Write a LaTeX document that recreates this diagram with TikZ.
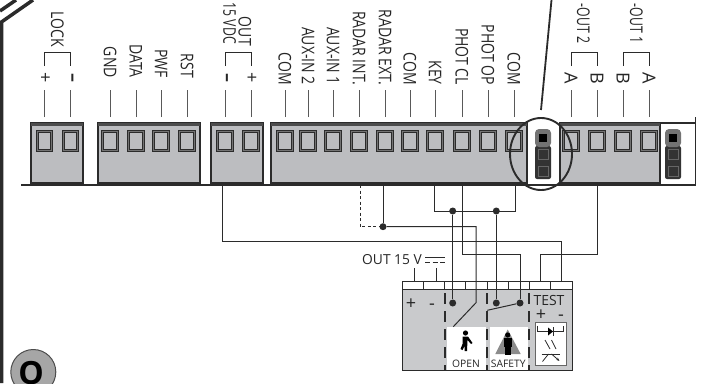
\documentclass[tikz,border=0pt]{standalone}
\usepackage{fontspec}
\setmainfont{Open Sans}
\newfontfamily\pinfont[FakeStretch=0.8]{Open Sans}
\newfontfamily\edgefont[FakeStretch=0.7]{Open Sans}
\usetikzlibrary{calc,arrows.meta,positioning}
\definecolor{blockgray}{HTML}{BCBDC0}
\definecolor{boxgray}{HTML}{C9CACC}
\definecolor{inkdark}{HTML}{2B2B2B}
\begin{document}
\begin{tikzpicture} [x=1pt,y=-1pt,{block/.style={draw=inkdark,fill=blockgray,line width=1.2pt}},{screw/.style={rectangle,draw=inkdark,double=black!55,double distance=1pt,line width=0.9pt,fill=blockgray,minimum width=14.5pt,minimum height=19.5pt,inner sep=0pt}},{lead/.style={color=black!65,line width=0.8pt}},{bracket/.style={color=inkdark,line width=0.8pt}},{pinlabel/.style={rotate=-90,anchor=east,inner sep=0pt,text=black!85,font=\pinfont\fontsize{17.5}{17.5}\selectfont}},{edgelabel/.style={pinlabel,font=\edgefont\fontsize{17.5}{17.5}\selectfont}},{polarity/.style={rotate=-90,inner sep=0pt,text=black!85,font=\fontsize{18}{18}\selectfont}},{wire/.style={color=inkdark,line width=1pt}},{dot/.style={circle,fill=inkdark,minimum size=7pt,inner sep=0pt}},{divider/.style={color=inkdark,line width=1.2pt,dash pattern=on 11pt off 7pt}},{tag/.style={inner sep=0pt,text=black!85,font=\fontsize{10.3}{10.3}\selectfont}},{sign/.style={inner sep=0pt,text height=12pt,text depth=0pt,text=black!85,font=\fontsize{18}{18}\selectfont}}]
	\path [use as bounding box,clip] (0,0) rectangle (701,383);
	%%outer casing
	\draw [line width=3.5pt,color=inkdark] (33,0) -- (1.5,22) -- (1.5,383);
	\draw [line width=3.5pt,color=inkdark] (16,0) -- (0,11);
	%%terminal blocks
	\draw [line width=1.2pt,color=inkdark] (660,123) -- (695.5,123);
	\draw [line width=1.2pt,color=inkdark] (695.5,117) -- (695.5,185) -- (21,185);
	\foreach \xa/\xb in {31/83,98/200,211/263,271/527,560/660}{
		\draw [block] (\xa,123) rectangle (\xb,183);
		\fill [color=black!70] (\xa,123) rectangle (\xb,126);
	}
	%%screws
	\foreach \n/\xs in {1/44.5,2/70.5,3/110,4/136,5/161,6/187,7/225,8/251,9/285,10/308,11/333,12/359,13/385,14/410,15/435,16/462,17/488,18/514,19/571,20/597,21/623,22/649}{
		\node (S\n) [screw] at (\xs,141) {};
		\draw [lead] ($(S\n)+(0,-24)$) -- ($(S\n)+(0,-51)$);
	}
	%%pin labels
	\foreach \n/\txt in {3/GND,4/DATA,5/PWF,6/RST}{
		\node (L\n) [pinlabel] at ($(S\n)+(0,-63)$) {\txt};
	}
	\foreach \n/\txt in {9/COM,10/AUX-IN 2,11/AUX-IN 1,12/RADAR INT.,13/RADAR EXT.,14/COM,15/KEY,16/PHOT CL,17/PHOT OP,18/COM}{
		\node (L\n) [pinlabel] at ($(S\n)+(0,-56)$) {\txt};
	}
	%%brackets
	\foreach \a/\b in {1/2,7/8,19/20,21/22}{
		\draw [bracket] ($(S\a)+(0,-75)$) -- ($(S\a)+(0,-88.5)$) -- ($(S\b)+(0,-88.5)$) -- ($(S\b)+(0,-75)$);
	}
	\node (LOCKpos) [polarity] at ($(S1)+(0,-63)$) {+};
	\node (LOCKneg) [polarity] at ($(S2)+(0,-63)$) {\textbf{--}};
	\node (OUTneg) [polarity] at ($(S7)+(0,-63)$) {\textbf{--}};
	\node (OUTpos) [polarity] at ($(S8)+(0,-63)$) {+};
	\node (OUTtwoA) [polarity] at ($(S19)+(0,-63)$) {A};
	\node (OUTtwoB) [polarity] at ($(S20)+(0,-63)$) {B};
	\node (OUToneB) [polarity] at ($(S21)+(0,-63)$) {B};
	\node (OUToneA) [polarity] at ($(S22)+(0,-63)$) {A};
	\node (LOCK) [pinlabel] at (57.5,47) {LOCK};
	\node (OUTa) [pinlabel] at (245,46) {OUT};
	\node (OUTb) [edgelabel] at (229.5,44) {15 VDC};
	\node (OUTtwo) [edgelabel] at (583.5,43.5) {-OUT 2};
	\node (OUTone) [edgelabel] at (636.5,43.5) {-OUT 1};
	%%jumpers
	\foreach \xj in {543,673}{
		\fill [color=black!80,rounded corners=2pt] ($(\xj,146)+(-8,0)$) rectangle ($(\xj,179)+(8,0)$);
		\fill [color=black!55,rounded corners=4pt] ($(\xj,129)+(-8,0)$) rectangle ($(\xj,147)+(8,0)$);
		\fill [color=black] ($(\xj,137.5)+(-4,-4)$) rectangle ($(\xj,137.5)+(4,4)$);
		\draw [color=black!60,line width=0.6pt] ($(\xj,154)+(-5,-5)$) rectangle ($(\xj,154)+(5,5)$);
		\draw [color=black!60,line width=0.6pt] ($(\xj,171)+(-5,-5)$) rectangle ($(\xj,171)+(5,5)$);
	}
	\draw [line width=1.8pt,color=inkdark] (551.5,0) -- (541,110);
	\draw [line width=1.9pt,color=inkdark] (541,154) ellipse [x radius=31,y radius=36];
	%%receiver box
	\fill [color=boxgray] (402,289) rectangle (572,370);
	\fill [color=white] (446.5,326.5) rectangle (486,370);
	\fill [color=white] (489.5,326.5) rectangle (527.5,370);
	\draw [color=black!60,fill=white,line width=1pt] (535,322) rectangle (566.5,365);
	\foreach \xc in {402,423.25,444.5,465.75,487,508.25,529.5,550.75}{
		\draw [wire,fill=white] (\xc,281) rectangle ++(21.25,8);
	}
	\draw [wire] (402,289) rectangle (572,370);
	\foreach \xd in {445,487,529}{
		\draw [divider] (\xd,293) -- (\xd,370);
	}
	\node (POS) [sign] at (411,303) {+};
	\node (NEG) [sign] at (432,303) {-};
	\node (TEST) [inner sep=0pt,text height=10pt,text depth=0pt,text=black!85,font=\fontsize{14}{14}\selectfont] at (549,300.5) {TEST};
	\node (TESTpos) [sign] at (541,314) {+};
	\node (TESTneg) [sign] at (561,314) {-};
	\node (OPEN) [tag] at (466,364) {OPEN};
	\node (SAFETY) [tag] at (508.3,364) {SAFETY};
	%%open figure
	\fill [color=black] (465.5,333) circle [radius=2.6];
	\fill [color=black] (462.5,336.5) -- (468,336.5) -- (472.5,343) -- (471,344) -- (467.5,340) -- (467,351) -- (464.5,351) -- (464.5,346) -- (462.5,350) -- (460.5,349) -- (462.5,344) -- cycle;
	%%safety figure
	\fill [color=black!45] (507.7,329.5) -- (520.7,354) -- (495.3,354) -- cycle;
	\fill [color=black] (507.7,335) circle [radius=2.6];
	\fill [color=black] (504,338) rectangle (511.5,347);
	\fill [color=black] (505,347) rectangle (510.5,355);
	%%test symbol
	\draw [line width=0.9pt,color=inkdark] (537.5,325.5) -- (537.5,331.5) -- (563.5,331.5) -- (563.5,325.5);
	\fill [color=black] (548,327.5) -- (553,331.5) -- (548,335.5) -- cycle;
	\draw [line width=0.9pt,color=inkdark] (553.5,327) -- (553.5,336);
	\draw [line width=0.8pt,color=inkdark] (545,340) -- (550,349);
	\draw [line width=0.8pt,color=inkdark] (551.5,340) -- (556,349);
	\draw [line width=1pt,color=inkdark] (541.5,354) -- (560,354);
	\draw [line width=0.8pt,color=inkdark] (542.5,361.5) -- (548.5,354);
	\draw [-{Stealth[length=3.5pt]},line width=0.8pt,color=inkdark] (551.5,354) -- (559.5,361);
	%%connection points
	\node (Dradar) [dot] at (383,226.7) {};
	\node (Dphotl) [dot] at (452.7,211) {};
	\node (Dphotr) [dot] at (496.3,211) {};
	\node (Dopen) [dot] at (452.7,303) {};
	\node (Dsafel) [dot] at (496.3,303) {};
	\node (Dsafer) [dot] at (520,303) {};
	\coordinate (Wout) at (222,185);
	\coordinate (Wdash) at (360,185);
	\coordinate (Wradar) at (383,185);
	\coordinate (Wcoml) at (434,185);
	\coordinate (Wphot) at (462.7,185);
	\coordinate (Wcomr) at (515.7,185);
	\coordinate (Wtest) at (597.3,185);
	\coordinate (Pplus) at (414,281);
	\coordinate (Pminus) at (436,281);
	\coordinate (Ptesta) at (540,281);
	\coordinate (Ptestb) at (561.7,281);
	\coordinate (Oend) at (453.3,326.7);
	\coordinate (Oknee) at (476,302.7);
	\coordinate (Sfree) at (487.3,310.3);
	%%wires
	\draw [wire] (Wout) |- (Ptestb|-0,241) -- (Ptestb);
	\draw [wire,dash pattern=on 3pt off 2.5pt] (Wdash) |- (Dradar);
	\draw [wire] (Wradar) -- (Dradar);
	\draw [wire] (Dradar) -| (Oknee) -- (Oend);
	\draw [wire] (Wcoml) |- (Wcomr|-0,211) -- (Wcomr);
	\draw [wire] (Dphotl) -- (Dopen);
	\draw [wire] (Dphotr) -- (Dsafel);
	\draw [wire] (Wphot) |- (Dsafer|-0,254) -- (Dsafer);
	\draw [wire] (Wtest) |- (Ptesta|-0,254) -- (Ptesta);
	\draw [wire] (Sfree) -- (Dsafer);
	\draw [wire] (Pplus) -- ++(0,-13);
	\draw [wire] (Pminus) -- ++(0,-13);
	%%supply label
	\node (SUPPLY) [anchor=east,inner sep=0pt,text=black!85,font=\fontsize{13.8}{13.8}\selectfont] at (422,260) {OUT 15 V};
	\draw [line width=0.9pt,color=inkdark] (425,257.7) -- (445,257.7);
	\draw [line width=0.9pt,color=inkdark,dash pattern=on 5pt off 2.5pt] (425,262) -- (445,262);
	%%corner badge
	\draw [color=black!70,fill=black!35,line width=1pt] (33.3,372) circle [radius=22.5];
	\node (BADGE) [inner sep=0pt,text=black,font=\fontsize{32}{32}\selectfont\bfseries] at (31,373.5) {O};
\end{tikzpicture}
\end{document}
